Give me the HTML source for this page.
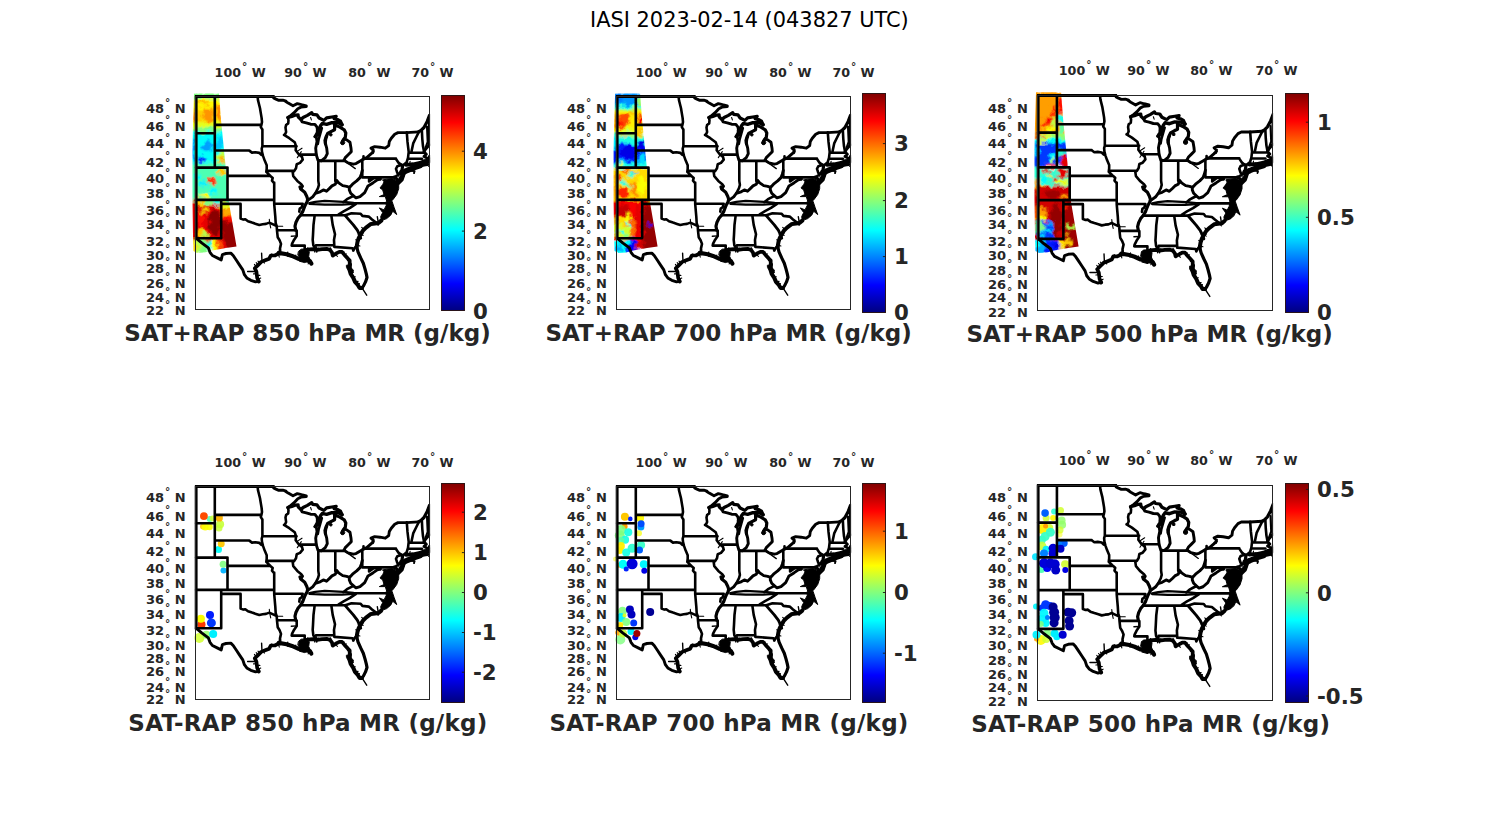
<!DOCTYPE html>
<html lang="en"><head><meta charset="utf-8"><title>IASI 2023-02-14 (043827 UTC)</title>
<style>html,body{margin:0;padding:0;background:#fff}svg{display:block}</style></head>
<body>
<svg width="1500" height="825" viewBox="0 0 1500 825">
<defs>
<linearGradient id="jet" x1="0" y1="1" x2="0" y2="0">
<stop offset="0.0000" stop-color="#000080"/>
<stop offset="0.0156" stop-color="#00008f"/>
<stop offset="0.0312" stop-color="#00009f"/>
<stop offset="0.0469" stop-color="#0000af"/>
<stop offset="0.0625" stop-color="#0000bf"/>
<stop offset="0.0781" stop-color="#0000cf"/>
<stop offset="0.0938" stop-color="#0000df"/>
<stop offset="0.1094" stop-color="#0000ef"/>
<stop offset="0.1250" stop-color="#0000ff"/>
<stop offset="0.1406" stop-color="#0010ff"/>
<stop offset="0.1562" stop-color="#0020ff"/>
<stop offset="0.1719" stop-color="#0030ff"/>
<stop offset="0.1875" stop-color="#0040ff"/>
<stop offset="0.2031" stop-color="#0050ff"/>
<stop offset="0.2188" stop-color="#0060ff"/>
<stop offset="0.2344" stop-color="#0070ff"/>
<stop offset="0.2500" stop-color="#0080ff"/>
<stop offset="0.2656" stop-color="#008fff"/>
<stop offset="0.2812" stop-color="#009fff"/>
<stop offset="0.2969" stop-color="#00afff"/>
<stop offset="0.3125" stop-color="#00bfff"/>
<stop offset="0.3281" stop-color="#00cfff"/>
<stop offset="0.3438" stop-color="#00dfff"/>
<stop offset="0.3594" stop-color="#00efff"/>
<stop offset="0.3750" stop-color="#00ffff"/>
<stop offset="0.3906" stop-color="#10ffef"/>
<stop offset="0.4062" stop-color="#20ffdf"/>
<stop offset="0.4219" stop-color="#30ffcf"/>
<stop offset="0.4375" stop-color="#40ffbf"/>
<stop offset="0.4531" stop-color="#50ffaf"/>
<stop offset="0.4688" stop-color="#60ff9f"/>
<stop offset="0.4844" stop-color="#70ff8f"/>
<stop offset="0.5000" stop-color="#80ff80"/>
<stop offset="0.5156" stop-color="#8fff70"/>
<stop offset="0.5312" stop-color="#9fff60"/>
<stop offset="0.5469" stop-color="#afff50"/>
<stop offset="0.5625" stop-color="#bfff40"/>
<stop offset="0.5781" stop-color="#cfff30"/>
<stop offset="0.5938" stop-color="#dfff20"/>
<stop offset="0.6094" stop-color="#efff10"/>
<stop offset="0.6250" stop-color="#ffff00"/>
<stop offset="0.6406" stop-color="#ffef00"/>
<stop offset="0.6562" stop-color="#ffdf00"/>
<stop offset="0.6719" stop-color="#ffcf00"/>
<stop offset="0.6875" stop-color="#ffbf00"/>
<stop offset="0.7031" stop-color="#ffaf00"/>
<stop offset="0.7188" stop-color="#ff9f00"/>
<stop offset="0.7344" stop-color="#ff8f00"/>
<stop offset="0.7500" stop-color="#ff8000"/>
<stop offset="0.7656" stop-color="#ff7000"/>
<stop offset="0.7812" stop-color="#ff6000"/>
<stop offset="0.7969" stop-color="#ff5000"/>
<stop offset="0.8125" stop-color="#ff4000"/>
<stop offset="0.8281" stop-color="#ff3000"/>
<stop offset="0.8438" stop-color="#ff2000"/>
<stop offset="0.8594" stop-color="#ff1000"/>
<stop offset="0.8750" stop-color="#ff0000"/>
<stop offset="0.8906" stop-color="#ef0000"/>
<stop offset="0.9062" stop-color="#df0000"/>
<stop offset="0.9219" stop-color="#cf0000"/>
<stop offset="0.9375" stop-color="#bf0000"/>
<stop offset="0.9531" stop-color="#af0000"/>
<stop offset="0.9688" stop-color="#9f0000"/>
<stop offset="0.9844" stop-color="#8f0000"/>
<stop offset="1.0000" stop-color="#800000"/>
</linearGradient>
<filter id="bl" x="-20%" y="-10%" width="140%" height="120%"><feGaussianBlur stdDeviation="0.9" result="b"/><feTurbulence type="fractalNoise" baseFrequency="0.16" numOctaves="2" seed="7" result="n"/><feDisplacementMap in="b" in2="n" scale="9" xChannelSelector="R" yChannelSelector="G"/></filter>
<filter id="bl2" x="-20%" y="-20%" width="140%" height="140%"><feGaussianBlur stdDeviation="0.5"/></filter>
<g id="m" fill="none" stroke="#000" stroke-linejoin="round" stroke-linecap="round">
<path stroke-width="1.1" d="M73.3 122.7 L73.7 126.7 L74.7 131.4 M80.7 129.7 L86.7 129.7 M100.7 55.1 L106 51.7 M101.3 61.1 L105.3 55.1 M114.6 21 L115.4 23.4"/>
<path stroke-width="1.3" d="M148.3 64.1 L159.3 72.1"/>
<path stroke-width="1.4" d="M95.3 139.7 L100.7 139.4 M51.6 175 L60.4 175 M65.6 156.6 L66 165 M166 191.4 L170.7 198.7 M181.3 120.1 L182.3 126.1 M218 74.4 L218.3 76.4"/>
<path stroke-width="1.7" d="M120 150.1 L120.7 155.4 M210.7 74.1 L218.7 74.7 L218 76.7"/>
<path stroke-width="2.1" d="M231 30.1 L231.7 45.4 L229.5 51.4"/>
<path stroke-width="2.2" d="M113.3 106.5 L119.3 105.4 L128.7 104.4 L147.3 105.4 L157.3 106.4 M113.3 107.3 L128.7 108.1 L146 108.1 L157.3 107.4"/>
<path stroke-width="2.6" d="M18.8 0 L18.8 71.1 M0 36.7 L18.8 36.7 M18.8 28.4 L65.3 28.4 M0 71.1 L31.5 71.1 M31.5 71.1 L31.5 103.4 M0 103.4 L78.2 103.4 M25.2 103.4 L25.2 141.7 M0 141.7 L25.2 141.7 M25.2 107.4 L44.6 107.4 L44.6 122.1 M18.8 54 L53.3 54 M31.5 79.4 L74 79.4 M66.3 49.7 L100.6 49.7 M61.6 -0.2 L62 3.8 L63 7.8 L64 11.8 L64.8 16.6 L65.6 21.4 L66 25.4 L65.4 28.4 L64.8 30.6 L66.4 33 L66.4 49.4 M66.3 50.1 L65.7 52.1 L66 55.4 L67 59.4 L68.7 64.1 L70.7 68.7 L70.7 72.1 L70.3 75.4 L72.3 77.4 L74.7 79.7 L76.7 81.4 L76 84.1 L77.7 86.1 M53.3 54.1 L56 56.1 L59.3 55.7 L63.3 56.4 L65.3 58.4 L66.1 56.7 M70.7 74.4 L98 74.1 M78.2 86.1 L78.2 107.4 L78.7 113.4 L79.3 120.1 L79.7 126.7 L80.7 129.7 L81 134.1 L81.7 140.7 L83.6 143.8 L85 147.4 L84 151.9 L84 156.9 M44.7 122.1 L47.3 123.1 L49.3 122.7 L52 124.7 L56 126.1 L60 127.4 L63.3 128.4 L66.7 127.7 L70 127.4 L73.3 126.1 L76 127.4 L78.7 128.7 L80.7 129.7 M78.3 107.3 L106.7 107.3 L105.7 110.7 L103.7 112.1 L103.3 115.1 M81 133.8 L100 133.8 M88 38.4 L93.3 41.7 L98.7 45.7 L100 49.7 L99.7 53.7 L102.7 57.7 L106 60.4 L106.7 63.1 L104 66.4 L100.7 67.7 L100 71.7 L98.3 74.4 L96.7 75.7 L97.3 79.7 L101.3 84.4 L105.3 87.7 L106.7 89.7 L105 92.7 M100.7 134.1 L100.7 139.4 L98 143.4 L96 147.4 L95.7 149.1 L108.7 149.1 L108.7 153.4 M91.9 21 L92.5 23.7 L92.2 26.9 L90.1 28.5 L89.5 31.1 L90.1 35.4 L89 38.1 L88 38.4 M118.9 40.2 L121 39.1 L123.7 34.9 L125.8 31.7 L124.2 37.5 L122.6 42.9 L121.8 47.4 M103.3 58.1 L120.3 58.1 M122.3 64.4 L122.3 84.4 L122.9 88.4 L122 91.7 L119.3 96.9 M124 64.4 L148 64.4 M139.3 64.4 L139.3 84.4 M166.3 64.4 L166.3 80.9 M167.5 62.1 L200 62.1 M167.5 59.9 L167.5 62.1 M166.3 80.9 L197 80.9 M147.3 105.7 L151 102.7 L154 101.1 L157.5 99.4 M184.3 82.7 L181.2 81.4 L177.7 81.6 L173.1 84.9 L173.1 80.9 M157.3 106.7 L192 106.7 M160 107.4 L154 111.4 L148 114.6 L142.7 117.9 M104.7 118.7 L149.3 118.7 M149.3 118.7 L155.5 116.7 L164.7 117.2 L166.4 119.4 L172.7 120.1 L176 122.9 L180 126.1 M118.7 118.7 L117.5 128.4 L117 138.4 L116.7 143.4 L117.3 148.7 L118.7 151.4 M135.3 118.7 L136.7 128.4 L139 137.7 L138 143.4 L138.3 149.4 M120 148.7 L138.3 148.7 M138.3 150.4 L156.7 151.7 L157.3 154.1 L159.3 150.7 L160.7 150.1 M200 62.4 L202.7 66.4 L205.3 68.4 L201.3 69.7 L200 72.4 L201.3 76.4 L203.3 77.9 L200 79.7 L197 80.9 M210.8 35.9 L211.5 45.4 L212.7 55.4 L212 61.4 L210.7 65.7 L206.7 68.9 M223 35.2 L220.1 41 L217.2 46.9 L215.4 55.6 M225.9 34.5 L226.3 42.5 L227 49.8 L228.1 55.6 M212.7 56.3 L228.1 56.3 M212 62.3 L226 62.3"/>
<path stroke-width="2.9" d="M77.2 -0.2 L77.6 1.4 L80 2.6 L82.8 3.8 L86.8 3.6 L90 4.6 M89 4.5 L92.2 6.6 L97 9.3 L101.3 7.1 L105.5 8.2 L110.3 9.3 L110.3 10.1 L105 10.6 L101.8 12.2 L98.1 16.2 L94.9 18.9 L91.9 21 M105 23.1 L106.1 25.3 L110.3 26.3 L114.6 27.7 L118.9 27.9 L121 30.6 L121.5 34.1 L121 36.5 L118.9 40.2 M120 38.4 L121 45.1 L119.7 51.7 L120.3 58.4 L122 63.7 M122 63.7 L125.3 64.4 L129.3 61.1 L131.3 57.1 L130.7 51.7 L129.3 46.4 L130 41.7 L130.7 40.1 M148 42.4 L150.7 43.4 L154 45.7 L155 51.7 L155.3 55.1 L152.7 57.7 L149.3 61.1 L148 63.7 M148 63.7 L152 66.4 L157.3 67.7 L160 67.1 L166 63.4 L170.7 61.1 L174.7 57.7 L177.3 55.1 M176.7 56.4 L177.3 53.7 L175 51.7 L178.7 50.1 L184 50.7 L189.3 51.7 L192.7 49.1 L193.3 45.1 L195.3 41.7 L198.7 37.7 L202 36.1 L210.7 36.1 L222.7 35.4 M112.4 103.4 L116.7 100.4 L119.3 96.9 L123.3 95.7 L127.3 93.4 L130.5 94.7 L133.5 91.9 L136 89.4 L139.3 87.7 L140.7 83.9 L142.7 86.4 L146.7 89.1 L150.7 89.9 L153.5 90.9 L156.5 87.7 L160.7 84.4 L164 81.1 L165.3 77.7 L166.3 73.9 M153.5 90.9 L153.3 93.4 L154.7 96.7 L157.5 99.4 L160 101.4 L164 100.1 L168.7 96.1 L172 89.4 L176.9 86.4 L181.3 83.4 L184.3 82.7 M149.3 119.1 L152.7 123.1 L157.3 128.4 L161.3 133.7 L163.3 137.7 L164.7 141.7 M1.2 142.6 L6 146.6 L12.4 151.4 L14 155.8 L16.4 159 L21.2 161.4 L25.2 163.4 L26.4 158.2 L30 157 L34.8 156.6 L37.2 159 L40.4 163.8 L43.6 168.6 L46.8 173.4 L48.4 178.2 L50.8 181.4 L54.8 183.8 L59.6 185.4 L62.8 184.6 M228.1 55.6 L230.3 57.8 L228.1 59.9 L231 61.6 L233.5 61.9 M233.5 48.3 L229.5 52.7 L228.1 55.6"/>
<path stroke-width="3.2" d="M0 0 L77.2 0 M0 0 L0 142 M104 90.4 L104.7 92.4 L108.7 95.7 L110.7 99.7 L111.7 102.7 L111 105.7 L109.3 108.4 L108 111.7 L106.7 115.1 L104.7 118.4 L102 121.7 L100 125.7 L99 129.7 L99.7 133.7 M91.9 21 L95.9 19.9 L99.7 18.6 L102.1 18.3 L102.3 20.5 L105 23.1 M105 23.1 L107.1 21 L111.4 18.9 L115.7 16.2 L116.7 17.8 L121 18.3 L123.1 21.5 L127.9 23.9 L130.6 21.3 L135.9 20.5 L140.2 19.9 L138.1 22.1 L142.3 23.4 L144.5 24.7 L146.1 28.2 M138.6 26.9 L138.6 33.3 L135.4 34.9 L131.7 37 L130.1 40.2 L129 43.9 L129.5 47.4 M140.2 29 L143.9 30.6 L148.2 33.3 L149.8 36.5 L149.3 40.7 L146.6 44.5 M160.7 150.1 L162 155.4 L164.7 161.4 L167.3 166.7 L169 172.4 L170.3 177.4 L171 180.9 L169.5 185.4 L167.5 189.4 L166 191.4 M205.3 68.4 L206.7 68.9 L206 73.4 L208 77.4 L206 83.4 L202.7 86.7 L201 82.4 L198 80.9 M222.5 35.4 L225 33.9 L228 31 L231.2 24.9 L233.5 18.8 M233.6 18.8 L233.6 48.4 M233.6 59.9 L233.6 65.4"/>
<path stroke-width="3.4" d="M146.1 28.2 L142.3 26.3 L135.9 26.1 L130.6 27.9 L126.3 26.9 L124.7 29.1 L123.1 32.2 L121.5 34.1"/>
<path stroke-width="3.7" d="M62.8 185 L61.2 181.4 L60.8 178.2 L60.4 175 L58.8 171.8 L62 168.6 L65.2 165.4 L69.2 163.8 L73.2 162.2 L74.8 159 L78.8 159 L82 157.4 L84.4 157 M111.3 153.1 L116.7 152.7 L120.7 153.4 L126 152.7 L131.3 152.4 L134 153.4 L136 156.1 L136.7 159.1 L140.7 156.7 L143.3 155.4 L146 155.4 L148.7 158.7 L151.3 161.4 L153.7 164.1 L153.7 168.1 M210 68.4 L217.3 67.7 L224 66.4 L228 64.7 L230.7 64.4 L233.3 64.7 M224 69.2 L228 68.3 L231.3 67.7"/>
<path stroke-width="4" d="M154 168.1 L153.5 173.4 L154.7 177.4 L157.3 181.4 L159 185.4 L162 188.7 L163.5 191.4 L166 191.4 M185.3 124.1 L182.5 126.4 L179 126.9 L175 127.4 L170 131.1 L167.3 133.7 L164.7 137.7 L162.7 141.7 L161.5 145.4 L160.7 150.1 M205.3 75.1 L206.7 79.1 L204 83.4"/>
<path stroke-width="4.2" d="M82.7 156.4 L90.7 157.7 L96 159.4 L102 162.1 L108.7 163.4 L114 164.7 L115.3 167.1"/>
<path stroke-width="5.5" d="M205.7 76.7 L210.7 74.1 L217.3 71.4 L224 69.2"/>
<path stroke-width="1.1" d="M61.9 183l2.8 -1.4 M60.9 178.8l3 0.1 M60.7 177.2l-3.2 0.2 M60.2 170.4l-1.8 -2.5 M62.1 168.5l-1.9 -2.4 M63.9 166.7l-1.9 -2 M67.8 164.3l0.5 2.3 M75.8 159l0 -1.7 M82.3 157.4l1 3.2 M84.3 156.7l0.4 -3.3 M83.3 156.5l1 -1.8 M92.4 158.3l-1 1.5 M91.2 157.9l0.6 -2.4 M99.1 160.8l0.7 -2.2 M108.6 163.4l-0.3 -3.3 M107.9 163.2l-0.6 -3.3 M114.2 165.1l-2.1 2.2 M112.9 153l-1.1 -1.7 M118.1 153l0.7 2.6 M122.7 153.1l-0.7 -1.9 M133 153l1.3 -1.9 M134.2 153.6l0.7 -1.5 M139.5 157.4l1.9 2.6 M138.7 157.9l-2 -1.4 M146.6 156.1l1.6 -0.6 M149.3 159.4l0.9 -2.1 M153.7 165.5l-2.3 -1.5 M153.5 173.5l2.1 -0.7 M154.8 177.5l2.4 -1.6 M157.3 181.4l1.8 -1.3 M158.9 185.1l3.2 -0.2 M161.1 187.7l2.3 -0.7 M180.5 126.7l1.7 2.2 M168 133l-2.3 -2.1 M165.3 136.7l1.7 0.6 M164.8 137.5l2.3 1.5 M164.7 137.7l-2.7 -0.1 M161.8 144.5l-2.1 -1.2 M161 148.5l2.9 1 M211.6 68.3l0 -2.2 M213.6 68.1l0.5 -3.3 M218.5 67.5l0.8 3.2 M220.8 67l-0.2 3.1 M230.2 64.5l-0.5 1.6 M209.6 74.6l-0.7 -2.2 M215.8 72l1.2 1.4 M214.9 72.4l1.9 1.7 M217.9 71.2l-1.5 -1.9 M217.4 71.4l0.5 1.6 M222.5 69.7l-1.3 -2.7 M231.1 67.8l1.4 2 M205.1 81.5l-2.4 -1.3"/>
<path fill="#000" stroke-width="1" d="M102.7 154.7 L105.3 152.7 L111.3 152.4 L113.3 155.4 L112.7 160.1 L114.7 164.1 L115.7 167.4 L111.3 164.7 L108.7 166.1 L103.3 164.7 L104 161.4 L102 158.7Z"/>
<path fill="#000" stroke-width="1" d="M150.7 168.7 L154 168.1 L155 171.4 L157.3 173.4 L157 176.7 L154 176.1 L152 173.4 L150.7 171.4Z"/>
<path fill="#000" stroke-width="1" d="M186.7 83.4 L190.7 82.7 L196 82.1 L199.3 83.4 L202.7 85.4 L202.7 92.1 L200.7 98.1 L197.3 102.7 L195.3 104.7 L190.7 104.7 L189.3 100.1 L183.3 100.1 L188 98.1 L186.7 93.4 L184 91.4 L186.7 88.1 L188 85.4Z"/>
<path fill="#000" stroke-width="1" d="M190.7 104.7 L196 104.7 L198 110.7 L200.7 118.1 L196.7 114.7 L194.7 118.7 L190.7 122.1 L185.3 124.1 L184.7 120.1 L186.7 116.1 L183.3 111.4 L188 113.4 L190 109.4Z"/>
<path fill="#000" stroke-width="1" d="M148.7 46.2 L148.3 47.4 L147.2 48.2 L146 48.2 L144.9 47.4 L144.5 46.2 L144.9 45 L146 44.2 L147.2 44.2 L148.3 45Z"/>
<path fill="#000" stroke-width="1" d="M136.1 38.3 L135.9 39.1 L135.2 39.5 L134.4 39.5 L133.7 39.1 L133.5 38.3 L133.7 37.5 L134.4 37.1 L135.2 37.1 L135.9 37.5Z"/>
</g>
<clipPath id="cp0"><polygon points="194,93.5 219,93.5 221,120 225,160 229,203 236.5,246.5 226,248 218,249.5 212,250.5 205,252.5 197,253 193.5,251 193,236 192.5,200 192.5,150 193,125"/></clipPath>
<clipPath id="cp1"><polygon points="615.1,93.5 640.1,93.5 642.1,120 646.1,160 650.1,203 657.6,246.5 647.1,248 639.1,249.5 633.1,250.5 626.1,252.5 618.1,253 614.6,251 614.1,236 613.6,200 613.6,150 614.1,125"/></clipPath>
<clipPath id="cp2"><polygon points="1036,92.2 1061.1,92.2 1063.1,118.9 1067.1,159.2 1071.1,202.6 1078.6,246.4 1068.1,247.9 1060.1,249.4 1054,250.4 1047,252.4 1039,253 1035.5,250.9 1035,235.8 1034.5,199.5 1034.5,149.1 1035,123.9"/></clipPath>
</defs>
<rect width="1500" height="825" fill="#fff"/>
<text x="749.4" y="26.6" font-size="20.9" text-anchor="middle" fill="#000" font-family="DejaVu Sans, Liberation Sans, sans-serif">IASI 2023-02-14 (043827 UTC)</text>
<!-- panel 1 -->
<g clip-path="url(#cp0)"><g filter="url(#bl)">
<rect x="188" y="92" width="34" height="8" fill="#80ff80"/>
<rect x="188" y="99" width="34" height="10" fill="#fffa00"/>
<rect x="188" y="108" width="36" height="15" fill="#ffd100"/>
<ellipse cx="208" cy="114" rx="6" ry="7" fill="#ff9400"/>
<ellipse cx="219.5" cy="112" rx="3" ry="9" fill="#ff8a00"/>
<ellipse cx="194" cy="118" rx="2.5" ry="5" fill="#ff8a00"/>
<ellipse cx="203" cy="103" rx="5" ry="2" fill="#ffb300"/>
<rect x="188" y="122" width="38" height="6" fill="#e5ff1a"/>
<rect x="188" y="127" width="38" height="6" fill="#80ff80"/>
<rect x="188" y="132" width="42" height="32" fill="#05fffa"/>
<ellipse cx="207" cy="147" rx="6" ry="5" fill="#009eff"/>
<ellipse cx="201" cy="160" rx="3.5" ry="3" fill="#002eff"/>
<ellipse cx="220" cy="143" rx="4" ry="6" fill="#00c7ff"/>
<ellipse cx="193" cy="150" rx="2" ry="12" fill="#0094ff"/>
<ellipse cx="221.5" cy="160" rx="5" ry="9" fill="#bdff42"/>
<ellipse cx="222" cy="161" rx="3" ry="3.5" fill="#ffb300"/>
<rect x="188" y="163" width="46" height="38" fill="#4dffb2"/>
<ellipse cx="212" cy="181" rx="3.6" ry="3" fill="#ff2e00"/>
<ellipse cx="203" cy="184" rx="5" ry="2.5" fill="#00f0ff"/>
<ellipse cx="214" cy="191" rx="4" ry="3.5" fill="#00faff"/>
<ellipse cx="205" cy="195.5" rx="5" ry="2.5" fill="#fffa00"/>
<ellipse cx="222" cy="172" rx="4" ry="3" fill="#ffc700"/>
<ellipse cx="197" cy="176" rx="3" ry="3" fill="#05fffa"/>
<rect x="188" y="200" width="34" height="42" fill="#e50000"/>
<rect x="196" y="199.5" width="9" height="5.5" fill="#ffc700"/>
<rect x="205" y="199.5" width="8" height="5.5" fill="#80ff80"/>
<rect x="213" y="199.5" width="9" height="5.5" fill="#1affe5"/>
<ellipse cx="215" cy="222" rx="6" ry="14" fill="#8a0000"/>
<ellipse cx="204" cy="209" rx="3" ry="1.2" fill="#faff05"/>
<ellipse cx="203" cy="213" rx="3" ry="1" fill="#fff000"/>
<ellipse cx="200" cy="220" rx="3" ry="6" fill="#ff0f00"/>
<ellipse cx="201" cy="233" rx="4.5" ry="5" fill="#ffc700"/>
<ellipse cx="204.5" cy="235" rx="3" ry="3" fill="#b3ff4c"/>
<rect x="221.5" y="201" width="18" height="10" fill="#e5ff1a"/>
<rect x="221.5" y="210" width="18" height="6" fill="#ff9e00"/>
<rect x="221.5" y="215.5" width="18" height="6" fill="#ff0f00"/>
<rect x="221.5" y="221" width="18" height="30" fill="#940000"/>
<rect x="188" y="240" width="12" height="15" fill="#bdff42"/>
<rect x="191" y="240" width="4.5" height="14" fill="#ffd100"/>
<rect x="200" y="240" width="8" height="13" fill="#80ff80"/>
<ellipse cx="209.5" cy="246" rx="3" ry="4.5" fill="#1affe5"/>
<rect x="212.5" y="240" width="5" height="12" fill="#fffa00"/>
<rect x="217" y="240" width="4.5" height="11" fill="#ff4c00"/>
<rect x="221" y="240" width="5" height="10" fill="#e50000"/>
</g></g>
<clipPath id="mc0"><rect x="194.5" y="95.1" width="235.6" height="215.8"/></clipPath>
<g clip-path="url(#mc0)"><use href="#m" transform="translate(196 96.5) scale(1.0 1.0)"/></g>
<rect x="195.5" y="96.5" width="234" height="213" fill="none" stroke="#262626" stroke-width="1"/>
<rect x="441.5" y="95.5" width="23" height="215" fill="url(#jet)" stroke="#200808" stroke-opacity="0.9" stroke-width="1"/>
<text x="473" y="318.5" font-size="21.3" font-weight="bold" fill="#262626" font-family="DejaVu Sans, Liberation Sans, sans-serif">0</text>
<path d="M464.5 231.1h-2.6" stroke="#1a1a1a" stroke-width="0.9"/>
<text x="473" y="238.8" font-size="21.3" font-weight="bold" fill="#262626" font-family="DejaVu Sans, Liberation Sans, sans-serif">2</text>
<path d="M464.5 151.2h-2.6" stroke="#1a1a1a" stroke-width="0.9"/>
<text x="473" y="158.9" font-size="21.3" font-weight="bold" fill="#262626" font-family="DejaVu Sans, Liberation Sans, sans-serif">4</text>
<text x="214.6" y="76.8" font-size="12.7" font-weight="bold" fill="#262626" font-family="DejaVu Sans, Liberation Sans, sans-serif">100<tspan dy="-6.8" dx="1.0" font-size="10.5">°</tspan><tspan dy="6.8" dx="-0.1"> W</tspan></text>
<text x="284.3" y="76.8" font-size="12.7" font-weight="bold" fill="#262626" font-family="DejaVu Sans, Liberation Sans, sans-serif">90<tspan dy="-6.8" dx="1.0" font-size="10.5">°</tspan><tspan dy="6.8" dx="-0.1"> W</tspan></text>
<text x="348.3" y="76.8" font-size="12.7" font-weight="bold" fill="#262626" font-family="DejaVu Sans, Liberation Sans, sans-serif">80<tspan dy="-6.8" dx="1.0" font-size="10.5">°</tspan><tspan dy="6.8" dx="-0.1"> W</tspan></text>
<text x="411.4" y="76.8" font-size="12.7" font-weight="bold" fill="#262626" font-family="DejaVu Sans, Liberation Sans, sans-serif">70<tspan dy="-6.8" dx="1.0" font-size="10.5">°</tspan><tspan dy="6.8" dx="-0.1"> W</tspan></text>
<text x="145.9" y="112.8" font-size="13" font-weight="bold" fill="#262626" font-family="DejaVu Sans, Liberation Sans, sans-serif">48<tspan dy="-7.3" dx="1.0" font-size="10.5">°</tspan><tspan dy="7.3" dx="0.1"> N</tspan></text>
<text x="145.9" y="130.7" font-size="13" font-weight="bold" fill="#262626" font-family="DejaVu Sans, Liberation Sans, sans-serif">46<tspan dy="-7.3" dx="1.0" font-size="10.5">°</tspan><tspan dy="7.3" dx="0.1"> N</tspan></text>
<text x="145.9" y="147.8" font-size="13" font-weight="bold" fill="#262626" font-family="DejaVu Sans, Liberation Sans, sans-serif">44<tspan dy="-7.3" dx="1.0" font-size="10.5">°</tspan><tspan dy="7.3" dx="0.1"> N</tspan></text>
<text x="145.9" y="166.7" font-size="13" font-weight="bold" fill="#262626" font-family="DejaVu Sans, Liberation Sans, sans-serif">42<tspan dy="-7.3" dx="1.0" font-size="10.5">°</tspan><tspan dy="7.3" dx="0.1"> N</tspan></text>
<text x="145.9" y="183.1" font-size="13" font-weight="bold" fill="#262626" font-family="DejaVu Sans, Liberation Sans, sans-serif">40<tspan dy="-7.3" dx="1.0" font-size="10.5">°</tspan><tspan dy="7.3" dx="0.1"> N</tspan></text>
<text x="145.9" y="197.9" font-size="13" font-weight="bold" fill="#262626" font-family="DejaVu Sans, Liberation Sans, sans-serif">38<tspan dy="-7.3" dx="1.0" font-size="10.5">°</tspan><tspan dy="7.3" dx="0.1"> N</tspan></text>
<text x="145.9" y="214.8" font-size="13" font-weight="bold" fill="#262626" font-family="DejaVu Sans, Liberation Sans, sans-serif">36<tspan dy="-7.3" dx="1.0" font-size="10.5">°</tspan><tspan dy="7.3" dx="0.1"> N</tspan></text>
<text x="145.9" y="228.7" font-size="13" font-weight="bold" fill="#262626" font-family="DejaVu Sans, Liberation Sans, sans-serif">34<tspan dy="-7.3" dx="1.0" font-size="10.5">°</tspan><tspan dy="7.3" dx="0.1"> N</tspan></text>
<text x="145.9" y="245.7" font-size="13" font-weight="bold" fill="#262626" font-family="DejaVu Sans, Liberation Sans, sans-serif">32<tspan dy="-7.3" dx="1.0" font-size="10.5">°</tspan><tspan dy="7.3" dx="0.1"> N</tspan></text>
<text x="145.9" y="259.6" font-size="13" font-weight="bold" fill="#262626" font-family="DejaVu Sans, Liberation Sans, sans-serif">30<tspan dy="-7.3" dx="1.0" font-size="10.5">°</tspan><tspan dy="7.3" dx="0.1"> N</tspan></text>
<text x="145.9" y="272.6" font-size="13" font-weight="bold" fill="#262626" font-family="DejaVu Sans, Liberation Sans, sans-serif">28<tspan dy="-7.3" dx="1.0" font-size="10.5">°</tspan><tspan dy="7.3" dx="0.1"> N</tspan></text>
<text x="145.9" y="287.6" font-size="13" font-weight="bold" fill="#262626" font-family="DejaVu Sans, Liberation Sans, sans-serif">26<tspan dy="-7.3" dx="1.0" font-size="10.5">°</tspan><tspan dy="7.3" dx="0.1"> N</tspan></text>
<text x="145.9" y="301.8" font-size="13" font-weight="bold" fill="#262626" font-family="DejaVu Sans, Liberation Sans, sans-serif">24<tspan dy="-7.3" dx="1.0" font-size="10.5">°</tspan><tspan dy="7.3" dx="0.1"> N</tspan></text>
<text x="145.9" y="314.8" font-size="13" font-weight="bold" fill="#262626" font-family="DejaVu Sans, Liberation Sans, sans-serif">22<tspan dy="-7.3" dx="1.0" font-size="10.5">°</tspan><tspan dy="7.3" dx="0.1"> N</tspan></text>
<text x="307.5" y="341.2" font-size="23" font-weight="bold" text-anchor="middle" fill="#262626" font-family="DejaVu Sans, Liberation Sans, sans-serif">SAT+RAP 850 hPa MR (g/kg)</text>
<!-- panel 2 -->
<g clip-path="url(#cp1)"><g filter="url(#bl)">
<rect x="609" y="92" width="36" height="15" fill="#0094ff"/>
<ellipse cx="619" cy="97" rx="4" ry="4" fill="#0075ff"/>
<ellipse cx="640" cy="103" rx="3" ry="8" fill="#94ff6b"/>
<rect x="609" y="105" width="36" height="4" fill="#1affe5"/>
<rect x="609" y="108" width="36" height="4" fill="#b3ff4c"/>
<rect x="609" y="111" width="36" height="21" fill="#fff000"/>
<ellipse cx="623" cy="121" rx="6.5" ry="7" fill="#ff4c00"/>
<ellipse cx="620" cy="124" rx="3.5" ry="4" fill="#ff0f00"/>
<ellipse cx="640" cy="120" rx="3.5" ry="5" fill="#fa0000"/>
<ellipse cx="615" cy="121" rx="2" ry="9" fill="#ff9e00"/>
<ellipse cx="632" cy="113" rx="5" ry="2.5" fill="#ffc700"/>
<ellipse cx="626" cy="130" rx="8" ry="2.5" fill="#e5ff1a"/>
<rect x="609" y="132.5" width="36" height="5" fill="#94ff6b"/>
<ellipse cx="625" cy="137" rx="4.5" ry="1.5" fill="#ffb300"/>
<ellipse cx="640.5" cy="132" rx="3.5" ry="4.5" fill="#ffc700"/>
<ellipse cx="641" cy="139" rx="3.5" ry="3" fill="#80ff80"/>
<rect x="609" y="137" width="40" height="8" fill="#1affe5"/>
<rect x="609" y="144" width="40" height="19" fill="#001aff"/>
<ellipse cx="629" cy="152" rx="9" ry="6" fill="#0000e6"/>
<ellipse cx="642" cy="146" rx="4" ry="5" fill="#0000e6"/>
<ellipse cx="615" cy="142" rx="2.5" ry="8" fill="#00f0ff"/>
<ellipse cx="623" cy="163" rx="7" ry="4" fill="#00b2ff"/>
<ellipse cx="642" cy="159" rx="4.5" ry="6" fill="#00dbff"/>
<rect x="609" y="163" width="40" height="5.5" fill="#1affe5"/>
<ellipse cx="620" cy="165" rx="3" ry="1.5" fill="#faff05"/>
<rect x="609" y="168" width="42" height="33" fill="#ffdb00"/>
<ellipse cx="627" cy="170.5" rx="5" ry="2" fill="#ff7500"/>
<ellipse cx="634" cy="173" rx="2" ry="1.2" fill="#00b2ff"/>
<ellipse cx="622.5" cy="183" rx="3.5" ry="2.5" fill="#1affe5"/>
<ellipse cx="631" cy="175.5" rx="4" ry="2" fill="#1affe5"/>
<ellipse cx="620" cy="178" rx="2" ry="3" fill="#fa0000"/>
<ellipse cx="623" cy="193" rx="6" ry="5" fill="#ff2400"/>
<ellipse cx="634" cy="190" rx="3" ry="8" fill="#ff8a00"/>
<ellipse cx="642" cy="186" rx="4" ry="10" fill="#faff05"/>
<ellipse cx="615" cy="185" rx="2" ry="14" fill="#ff9e00"/>
<ellipse cx="628" cy="186" rx="3" ry="2" fill="#4dffb2"/>
<rect x="609" y="200" width="34" height="42" fill="#fa0000"/>
<ellipse cx="623" cy="210" rx="6" ry="6" fill="#c70000"/>
<ellipse cx="622" cy="222" rx="5" ry="5" fill="#ffdb00"/>
<ellipse cx="628" cy="218" rx="3" ry="6" fill="#faff05"/>
<ellipse cx="637.5" cy="220" rx="3.5" ry="18" fill="#e50000"/>
<ellipse cx="633" cy="228" rx="2" ry="10" fill="#ff7500"/>
<rect x="617" y="226" width="13" height="13" fill="#d1ff2e"/>
<ellipse cx="620.5" cy="232" rx="2.5" ry="2.5" fill="#1affe5"/>
<ellipse cx="629" cy="225" rx="1.8" ry="3" fill="#05fffa"/>
<ellipse cx="626" cy="236" rx="4" ry="2" fill="#80ff80"/>
<ellipse cx="631" cy="238.5" rx="1.5" ry="1.5" fill="#0000e6"/>
<ellipse cx="615" cy="209" rx="2" ry="6" fill="#e50000"/>
<ellipse cx="615" cy="225" rx="2" ry="10" fill="#d1ff2e"/>
<rect x="642.5" y="201" width="18" height="50" fill="#940000"/>
<rect x="642.5" y="201" width="18" height="5" fill="#e50000"/>
<ellipse cx="650.5" cy="225" rx="2.5" ry="1.3" fill="#0000fa"/>
<rect x="609" y="240" width="17" height="15" fill="#05fffa"/>
<ellipse cx="618" cy="248" rx="4" ry="4" fill="#00b2ff"/>
<rect x="626" y="240" width="11" height="13" fill="#0000fa"/>
<ellipse cx="628" cy="243" rx="2.5" ry="2.5" fill="#05fffa"/>
<rect x="636.5" y="240" width="7" height="10" fill="#d10000"/>
</g></g>
<clipPath id="mc1"><rect x="615.5" y="95.1" width="235.6" height="215.8"/></clipPath>
<g clip-path="url(#mc1)"><use href="#m" transform="translate(617 96.5) scale(1.0 1.0)"/></g>
<rect x="616.5" y="96.5" width="234" height="213" fill="none" stroke="#262626" stroke-width="1"/>
<rect x="862.5" y="93.5" width="23" height="219" fill="url(#jet)" stroke="#200808" stroke-opacity="0.9" stroke-width="1"/>
<text x="894" y="320" font-size="21.3" font-weight="bold" fill="#262626" font-family="DejaVu Sans, Liberation Sans, sans-serif">0</text>
<path d="M885.5 256.6h-2.6" stroke="#1a1a1a" stroke-width="0.9"/>
<text x="894" y="264.4" font-size="21.3" font-weight="bold" fill="#262626" font-family="DejaVu Sans, Liberation Sans, sans-serif">1</text>
<path d="M885.5 200.6h-2.6" stroke="#1a1a1a" stroke-width="0.9"/>
<text x="894" y="208.3" font-size="21.3" font-weight="bold" fill="#262626" font-family="DejaVu Sans, Liberation Sans, sans-serif">2</text>
<path d="M885.5 143.6h-2.6" stroke="#1a1a1a" stroke-width="0.9"/>
<text x="894" y="151.3" font-size="21.3" font-weight="bold" fill="#262626" font-family="DejaVu Sans, Liberation Sans, sans-serif">3</text>
<text x="635.6" y="76.8" font-size="12.7" font-weight="bold" fill="#262626" font-family="DejaVu Sans, Liberation Sans, sans-serif">100<tspan dy="-6.8" dx="1.0" font-size="10.5">°</tspan><tspan dy="6.8" dx="-0.1"> W</tspan></text>
<text x="705.3" y="76.8" font-size="12.7" font-weight="bold" fill="#262626" font-family="DejaVu Sans, Liberation Sans, sans-serif">90<tspan dy="-6.8" dx="1.0" font-size="10.5">°</tspan><tspan dy="6.8" dx="-0.1"> W</tspan></text>
<text x="769.3" y="76.8" font-size="12.7" font-weight="bold" fill="#262626" font-family="DejaVu Sans, Liberation Sans, sans-serif">80<tspan dy="-6.8" dx="1.0" font-size="10.5">°</tspan><tspan dy="6.8" dx="-0.1"> W</tspan></text>
<text x="832.4" y="76.8" font-size="12.7" font-weight="bold" fill="#262626" font-family="DejaVu Sans, Liberation Sans, sans-serif">70<tspan dy="-6.8" dx="1.0" font-size="10.5">°</tspan><tspan dy="6.8" dx="-0.1"> W</tspan></text>
<text x="567" y="112.8" font-size="13" font-weight="bold" fill="#262626" font-family="DejaVu Sans, Liberation Sans, sans-serif">48<tspan dy="-7.3" dx="1.0" font-size="10.5">°</tspan><tspan dy="7.3" dx="0.1"> N</tspan></text>
<text x="567" y="130.7" font-size="13" font-weight="bold" fill="#262626" font-family="DejaVu Sans, Liberation Sans, sans-serif">46<tspan dy="-7.3" dx="1.0" font-size="10.5">°</tspan><tspan dy="7.3" dx="0.1"> N</tspan></text>
<text x="567" y="147.8" font-size="13" font-weight="bold" fill="#262626" font-family="DejaVu Sans, Liberation Sans, sans-serif">44<tspan dy="-7.3" dx="1.0" font-size="10.5">°</tspan><tspan dy="7.3" dx="0.1"> N</tspan></text>
<text x="567" y="166.7" font-size="13" font-weight="bold" fill="#262626" font-family="DejaVu Sans, Liberation Sans, sans-serif">42<tspan dy="-7.3" dx="1.0" font-size="10.5">°</tspan><tspan dy="7.3" dx="0.1"> N</tspan></text>
<text x="567" y="183.1" font-size="13" font-weight="bold" fill="#262626" font-family="DejaVu Sans, Liberation Sans, sans-serif">40<tspan dy="-7.3" dx="1.0" font-size="10.5">°</tspan><tspan dy="7.3" dx="0.1"> N</tspan></text>
<text x="567" y="197.9" font-size="13" font-weight="bold" fill="#262626" font-family="DejaVu Sans, Liberation Sans, sans-serif">38<tspan dy="-7.3" dx="1.0" font-size="10.5">°</tspan><tspan dy="7.3" dx="0.1"> N</tspan></text>
<text x="567" y="214.8" font-size="13" font-weight="bold" fill="#262626" font-family="DejaVu Sans, Liberation Sans, sans-serif">36<tspan dy="-7.3" dx="1.0" font-size="10.5">°</tspan><tspan dy="7.3" dx="0.1"> N</tspan></text>
<text x="567" y="228.7" font-size="13" font-weight="bold" fill="#262626" font-family="DejaVu Sans, Liberation Sans, sans-serif">34<tspan dy="-7.3" dx="1.0" font-size="10.5">°</tspan><tspan dy="7.3" dx="0.1"> N</tspan></text>
<text x="567" y="245.7" font-size="13" font-weight="bold" fill="#262626" font-family="DejaVu Sans, Liberation Sans, sans-serif">32<tspan dy="-7.3" dx="1.0" font-size="10.5">°</tspan><tspan dy="7.3" dx="0.1"> N</tspan></text>
<text x="567" y="259.6" font-size="13" font-weight="bold" fill="#262626" font-family="DejaVu Sans, Liberation Sans, sans-serif">30<tspan dy="-7.3" dx="1.0" font-size="10.5">°</tspan><tspan dy="7.3" dx="0.1"> N</tspan></text>
<text x="567" y="272.6" font-size="13" font-weight="bold" fill="#262626" font-family="DejaVu Sans, Liberation Sans, sans-serif">28<tspan dy="-7.3" dx="1.0" font-size="10.5">°</tspan><tspan dy="7.3" dx="0.1"> N</tspan></text>
<text x="567" y="287.6" font-size="13" font-weight="bold" fill="#262626" font-family="DejaVu Sans, Liberation Sans, sans-serif">26<tspan dy="-7.3" dx="1.0" font-size="10.5">°</tspan><tspan dy="7.3" dx="0.1"> N</tspan></text>
<text x="567" y="301.8" font-size="13" font-weight="bold" fill="#262626" font-family="DejaVu Sans, Liberation Sans, sans-serif">24<tspan dy="-7.3" dx="1.0" font-size="10.5">°</tspan><tspan dy="7.3" dx="0.1"> N</tspan></text>
<text x="567" y="314.8" font-size="13" font-weight="bold" fill="#262626" font-family="DejaVu Sans, Liberation Sans, sans-serif">22<tspan dy="-7.3" dx="1.0" font-size="10.5">°</tspan><tspan dy="7.3" dx="0.1"> N</tspan></text>
<text x="728.6" y="341.2" font-size="23" font-weight="bold" text-anchor="middle" fill="#262626" font-family="DejaVu Sans, Liberation Sans, sans-serif">SAT+RAP 700 hPa MR (g/kg)</text>
<!-- panel 3 -->
<g clip-path="url(#cp2)"><g filter="url(#bl)">
<rect x="1030" y="91" width="40" height="42" fill="#ff9e00"/>
<ellipse cx="1061" cy="106" rx="3.5" ry="9" fill="#ff0f00"/>
<ellipse cx="1054" cy="111" rx="2" ry="7" fill="#ff0500"/>
<ellipse cx="1048.5" cy="121" rx="4.5" ry="3.5" fill="#fa0000"/>
<ellipse cx="1044" cy="126" rx="3" ry="2.5" fill="#ff2400"/>
<ellipse cx="1054" cy="123" rx="2.5" ry="5" fill="#bdff42"/>
<ellipse cx="1061.5" cy="118" rx="3.5" ry="4" fill="#1affe5"/>
<ellipse cx="1050" cy="129.5" rx="6" ry="2.5" fill="#faff05"/>
<ellipse cx="1061.5" cy="129" rx="4" ry="4.5" fill="#61ff9e"/>
<ellipse cx="1036" cy="125" rx="2" ry="15" fill="#ff9e00"/>
<rect x="1030" y="133" width="42" height="6" fill="#94ff6b"/>
<ellipse cx="1041" cy="136" rx="3.5" ry="2.5" fill="#ff7500"/>
<ellipse cx="1048" cy="136.5" rx="4" ry="2" fill="#e5ff1a"/>
<ellipse cx="1036" cy="137" rx="2" ry="4" fill="#ff6100"/>
<rect x="1030" y="138.5" width="44" height="6" fill="#05fffa"/>
<ellipse cx="1042" cy="141" rx="5" ry="2" fill="#d1ff2e"/>
<rect x="1030" y="143" width="44" height="23" fill="#0038ff"/>
<ellipse cx="1052" cy="158" rx="3.5" ry="4.5" fill="#00f0ff"/>
<ellipse cx="1053" cy="161" rx="1.8" ry="2" fill="#d1ff2e"/>
<ellipse cx="1062" cy="152.5" rx="5" ry="2.5" fill="#2effd1"/>
<ellipse cx="1036" cy="150" rx="2" ry="8" fill="#00d1ff"/>
<ellipse cx="1064.5" cy="161" rx="4.5" ry="6.5" fill="#e50000"/>
<ellipse cx="1051" cy="165.5" rx="7" ry="1.5" fill="#ff3800"/>
<ellipse cx="1036" cy="165" rx="2.5" ry="4" fill="#004dff"/>
<rect x="1030" y="168" width="48" height="18" fill="#2effd1"/>
<ellipse cx="1046.5" cy="171" rx="4.5" ry="1.8" fill="#e50000"/>
<ellipse cx="1063" cy="173" rx="6" ry="4.5" fill="#e50000"/>
<ellipse cx="1055" cy="180" rx="3.5" ry="2.5" fill="#e50000"/>
<ellipse cx="1062" cy="182" rx="7" ry="3" fill="#e5ff1a"/>
<ellipse cx="1044" cy="180" rx="4" ry="2.5" fill="#00faff"/>
<ellipse cx="1042" cy="186" rx="4" ry="2" fill="#ffb300"/>
<ellipse cx="1050" cy="176" rx="2" ry="2" fill="#ffdb00"/>
<rect x="1030" y="186" width="48" height="58" fill="#d10000"/>
<ellipse cx="1052" cy="194" rx="8" ry="4" fill="#9e0000"/>
<ellipse cx="1064" cy="197" rx="4" ry="2" fill="#ff9e00"/>
<ellipse cx="1036" cy="185" rx="2" ry="8" fill="#ff9e00"/>
<ellipse cx="1056" cy="220" rx="6" ry="18" fill="#940000"/>
<ellipse cx="1042" cy="212" rx="4" ry="5" fill="#ff9e00"/>
<ellipse cx="1041.5" cy="218" rx="4" ry="3" fill="#faff05"/>
<ellipse cx="1036" cy="212" rx="2" ry="8" fill="#ff6100"/>
<rect x="1038" y="221" width="15" height="20" fill="#0038ff"/>
<ellipse cx="1041" cy="227" rx="2.5" ry="5" fill="#80ff80"/>
<ellipse cx="1047" cy="231" rx="5" ry="1.5" fill="#00f0ff"/>
<ellipse cx="1049" cy="224" rx="4" ry="2" fill="#009eff"/>
<ellipse cx="1043" cy="236" rx="4" ry="1.5" fill="#00f0ff"/>
<ellipse cx="1036" cy="228" rx="2" ry="7" fill="#4dffb2"/>
<rect x="1063.5" y="200" width="20" height="52" fill="#9e0000"/>
<ellipse cx="1070" cy="226.5" rx="5.5" ry="2" fill="#b3ff4c"/>
<ellipse cx="1067.5" cy="242" rx="5" ry="3" fill="#ffc700"/>
<ellipse cx="1066.5" cy="234.5" rx="2.5" ry="1.2" fill="#ffb300"/>
<ellipse cx="1066" cy="207" rx="2" ry="3" fill="#ff2400"/>
<rect x="1030" y="240" width="16" height="16" fill="#00b2ff"/>
<ellipse cx="1037" cy="243" rx="3" ry="3" fill="#05fffa"/>
<rect x="1045" y="240" width="16" height="14" fill="#001aff"/>
<ellipse cx="1055" cy="246" rx="4" ry="3" fill="#0000e6"/>
<rect x="1060" y="240" width="5" height="10" fill="#ffdb00"/>
</g></g>
<clipPath id="mc2"><rect x="1036.5" y="94.1" width="236.6" height="217.8"/></clipPath>
<g clip-path="url(#mc2)"><use href="#m" transform="translate(1038 95.5) scale(1.0065 1.0115)"/></g>
<rect x="1037.5" y="95.5" width="235" height="215" fill="none" stroke="#262626" stroke-width="1"/>
<rect x="1285.5" y="93.5" width="23" height="219" fill="url(#jet)" stroke="#200808" stroke-opacity="0.9" stroke-width="1"/>
<text x="1317" y="320" font-size="21.3" font-weight="bold" fill="#262626" font-family="DejaVu Sans, Liberation Sans, sans-serif">0</text>
<path d="M1308.5 217.3h-2.6" stroke="#1a1a1a" stroke-width="0.9"/>
<text x="1317" y="225.1" font-size="21.3" font-weight="bold" fill="#262626" font-family="DejaVu Sans, Liberation Sans, sans-serif">0.5</text>
<path d="M1308.5 122.2h-2.6" stroke="#1a1a1a" stroke-width="0.9"/>
<text x="1317" y="130" font-size="21.3" font-weight="bold" fill="#262626" font-family="DejaVu Sans, Liberation Sans, sans-serif">1</text>
<text x="1058.8" y="75.1" font-size="12.7" font-weight="bold" fill="#262626" font-family="DejaVu Sans, Liberation Sans, sans-serif">100<tspan dy="-6.8" dx="1.0" font-size="10.5">°</tspan><tspan dy="6.8" dx="-0.1"> W</tspan></text>
<text x="1127.3" y="75.1" font-size="12.7" font-weight="bold" fill="#262626" font-family="DejaVu Sans, Liberation Sans, sans-serif">90<tspan dy="-6.8" dx="1.0" font-size="10.5">°</tspan><tspan dy="6.8" dx="-0.1"> W</tspan></text>
<text x="1190.3" y="75.1" font-size="12.7" font-weight="bold" fill="#262626" font-family="DejaVu Sans, Liberation Sans, sans-serif">80<tspan dy="-6.8" dx="1.0" font-size="10.5">°</tspan><tspan dy="6.8" dx="-0.1"> W</tspan></text>
<text x="1255.4" y="75.1" font-size="12.7" font-weight="bold" fill="#262626" font-family="DejaVu Sans, Liberation Sans, sans-serif">70<tspan dy="-6.8" dx="1.0" font-size="10.5">°</tspan><tspan dy="6.8" dx="-0.1"> W</tspan></text>
<text x="988" y="112.8" font-size="13" font-weight="bold" fill="#262626" font-family="DejaVu Sans, Liberation Sans, sans-serif">48<tspan dy="-7.3" dx="1.0" font-size="10.5">°</tspan><tspan dy="7.3" dx="0.1"> N</tspan></text>
<text x="988" y="130.7" font-size="13" font-weight="bold" fill="#262626" font-family="DejaVu Sans, Liberation Sans, sans-serif">46<tspan dy="-7.3" dx="1.0" font-size="10.5">°</tspan><tspan dy="7.3" dx="0.1"> N</tspan></text>
<text x="988" y="147.8" font-size="13" font-weight="bold" fill="#262626" font-family="DejaVu Sans, Liberation Sans, sans-serif">44<tspan dy="-7.3" dx="1.0" font-size="10.5">°</tspan><tspan dy="7.3" dx="0.1"> N</tspan></text>
<text x="988" y="166.7" font-size="13" font-weight="bold" fill="#262626" font-family="DejaVu Sans, Liberation Sans, sans-serif">42<tspan dy="-7.3" dx="1.0" font-size="10.5">°</tspan><tspan dy="7.3" dx="0.1"> N</tspan></text>
<text x="988" y="183.1" font-size="13" font-weight="bold" fill="#262626" font-family="DejaVu Sans, Liberation Sans, sans-serif">40<tspan dy="-7.3" dx="1.0" font-size="10.5">°</tspan><tspan dy="7.3" dx="0.1"> N</tspan></text>
<text x="988" y="197.9" font-size="13" font-weight="bold" fill="#262626" font-family="DejaVu Sans, Liberation Sans, sans-serif">38<tspan dy="-7.3" dx="1.0" font-size="10.5">°</tspan><tspan dy="7.3" dx="0.1"> N</tspan></text>
<text x="988" y="214.8" font-size="13" font-weight="bold" fill="#262626" font-family="DejaVu Sans, Liberation Sans, sans-serif">36<tspan dy="-7.3" dx="1.0" font-size="10.5">°</tspan><tspan dy="7.3" dx="0.1"> N</tspan></text>
<text x="988" y="228.7" font-size="13" font-weight="bold" fill="#262626" font-family="DejaVu Sans, Liberation Sans, sans-serif">34<tspan dy="-7.3" dx="1.0" font-size="10.5">°</tspan><tspan dy="7.3" dx="0.1"> N</tspan></text>
<text x="988" y="245.7" font-size="13" font-weight="bold" fill="#262626" font-family="DejaVu Sans, Liberation Sans, sans-serif">32<tspan dy="-7.3" dx="1.0" font-size="10.5">°</tspan><tspan dy="7.3" dx="0.1"> N</tspan></text>
<text x="988" y="259.6" font-size="13" font-weight="bold" fill="#262626" font-family="DejaVu Sans, Liberation Sans, sans-serif">30<tspan dy="-7.3" dx="1.0" font-size="10.5">°</tspan><tspan dy="7.3" dx="0.1"> N</tspan></text>
<text x="988" y="274.5" font-size="13" font-weight="bold" fill="#262626" font-family="DejaVu Sans, Liberation Sans, sans-serif">28<tspan dy="-7.3" dx="1.0" font-size="10.5">°</tspan><tspan dy="7.3" dx="0.1"> N</tspan></text>
<text x="988" y="289.3" font-size="13" font-weight="bold" fill="#262626" font-family="DejaVu Sans, Liberation Sans, sans-serif">26<tspan dy="-7.3" dx="1.0" font-size="10.5">°</tspan><tspan dy="7.3" dx="0.1"> N</tspan></text>
<text x="988" y="301.8" font-size="13" font-weight="bold" fill="#262626" font-family="DejaVu Sans, Liberation Sans, sans-serif">24<tspan dy="-7.3" dx="1.0" font-size="10.5">°</tspan><tspan dy="7.3" dx="0.1"> N</tspan></text>
<text x="988" y="317.1" font-size="13" font-weight="bold" fill="#262626" font-family="DejaVu Sans, Liberation Sans, sans-serif">22<tspan dy="-7.3" dx="1.0" font-size="10.5">°</tspan><tspan dy="7.3" dx="0.1"> N</tspan></text>
<text x="1149.6" y="342" font-size="23" font-weight="bold" text-anchor="middle" fill="#262626" font-family="DejaVu Sans, Liberation Sans, sans-serif">SAT+RAP 500 hPa MR (g/kg)</text>
<!-- panel 4 -->
<g filter="url(#bl2)">
<circle cx="209.7" cy="518.9" r="3" fill="#4dffb2" fill-opacity="0.85"/>
<circle cx="212.7" cy="518.4" r="3" fill="#d1ff2e" fill-opacity="0.8"/>
<circle cx="203.9" cy="516.1" r="3.9" fill="#ff4c00" fill-opacity="1"/>
<circle cx="203" cy="526.4" r="3" fill="#ffc700" fill-opacity="0.85"/>
<circle cx="205.2" cy="526.9" r="3.5" fill="#faff05" fill-opacity="0.9"/>
<circle cx="209.5" cy="527" r="3.3" fill="#faff05" fill-opacity="0.9"/>
<circle cx="219" cy="528" r="3.5" fill="#c7ff38" fill-opacity="0.85"/>
<circle cx="220.1" cy="524.3" r="4" fill="#c7ff38" fill-opacity="0.9"/>
<circle cx="219.3" cy="517.9" r="3.6" fill="#ffb300" fill-opacity="0.95"/>
<circle cx="218.5" cy="549.5" r="3.5" fill="#05fffa" fill-opacity="0.95"/>
<circle cx="221.2" cy="543.7" r="3.5" fill="#ffc700" fill-opacity="0.95"/>
<circle cx="223.5" cy="570.5" r="3" fill="#00b2ff" fill-opacity="0.95"/>
<circle cx="223.1" cy="564.3" r="3.5" fill="#80ff80" fill-opacity="0.9"/>
<circle cx="199.3" cy="637.9" r="5" fill="#d1ff2e" fill-opacity="0.85"/>
<circle cx="206.3" cy="634.7" r="4" fill="#94ff6b" fill-opacity="0.85"/>
<circle cx="213.2" cy="634.1" r="4" fill="#00f0ff" fill-opacity="1"/>
<circle cx="201.5" cy="624.5" r="4" fill="#ff3800" fill-opacity="1"/>
<circle cx="200.9" cy="618.7" r="4" fill="#faff05" fill-opacity="1"/>
<circle cx="211.4" cy="622.9" r="4.5" fill="#0038ff" fill-opacity="1"/>
<circle cx="210" cy="614.9" r="4" fill="#001aff" fill-opacity="1"/>
</g>
<clipPath id="mc3"><rect x="194.5" y="485.1" width="235.6" height="215.8"/></clipPath>
<g clip-path="url(#mc3)"><use href="#m" transform="translate(196 486.5) scale(1.0 1.0)"/></g>
<rect x="195.5" y="486.5" width="234" height="213" fill="none" stroke="#262626" stroke-width="1"/>
<rect x="441.5" y="483.5" width="23" height="219" fill="url(#jet)" stroke="#200808" stroke-opacity="0.9" stroke-width="1"/>
<path d="M464.5 672.2h-2.6" stroke="#1a1a1a" stroke-width="0.9"/>
<text x="473" y="680" font-size="21.3" font-weight="bold" fill="#262626" font-family="DejaVu Sans, Liberation Sans, sans-serif">-2</text>
<path d="M464.5 632.5h-2.6" stroke="#1a1a1a" stroke-width="0.9"/>
<text x="473" y="640.2" font-size="21.3" font-weight="bold" fill="#262626" font-family="DejaVu Sans, Liberation Sans, sans-serif">-1</text>
<path d="M464.5 592.5h-2.6" stroke="#1a1a1a" stroke-width="0.9"/>
<text x="473" y="600.3" font-size="21.3" font-weight="bold" fill="#262626" font-family="DejaVu Sans, Liberation Sans, sans-serif">0</text>
<path d="M464.5 552.6h-2.6" stroke="#1a1a1a" stroke-width="0.9"/>
<text x="473" y="560.4" font-size="21.3" font-weight="bold" fill="#262626" font-family="DejaVu Sans, Liberation Sans, sans-serif">1</text>
<path d="M464.5 512.2h-2.6" stroke="#1a1a1a" stroke-width="0.9"/>
<text x="473" y="520" font-size="21.3" font-weight="bold" fill="#262626" font-family="DejaVu Sans, Liberation Sans, sans-serif">2</text>
<text x="214.6" y="466.8" font-size="12.7" font-weight="bold" fill="#262626" font-family="DejaVu Sans, Liberation Sans, sans-serif">100<tspan dy="-6.8" dx="1.0" font-size="10.5">°</tspan><tspan dy="6.8" dx="-0.1"> W</tspan></text>
<text x="284.3" y="466.8" font-size="12.7" font-weight="bold" fill="#262626" font-family="DejaVu Sans, Liberation Sans, sans-serif">90<tspan dy="-6.8" dx="1.0" font-size="10.5">°</tspan><tspan dy="6.8" dx="-0.1"> W</tspan></text>
<text x="348.3" y="466.8" font-size="12.7" font-weight="bold" fill="#262626" font-family="DejaVu Sans, Liberation Sans, sans-serif">80<tspan dy="-6.8" dx="1.0" font-size="10.5">°</tspan><tspan dy="6.8" dx="-0.1"> W</tspan></text>
<text x="411.4" y="466.8" font-size="12.7" font-weight="bold" fill="#262626" font-family="DejaVu Sans, Liberation Sans, sans-serif">70<tspan dy="-6.8" dx="1.0" font-size="10.5">°</tspan><tspan dy="6.8" dx="-0.1"> W</tspan></text>
<text x="145.9" y="502.1" font-size="13" font-weight="bold" fill="#262626" font-family="DejaVu Sans, Liberation Sans, sans-serif">48<tspan dy="-7.3" dx="1.0" font-size="10.5">°</tspan><tspan dy="7.3" dx="0.1"> N</tspan></text>
<text x="145.9" y="520.7" font-size="13" font-weight="bold" fill="#262626" font-family="DejaVu Sans, Liberation Sans, sans-serif">46<tspan dy="-7.3" dx="1.0" font-size="10.5">°</tspan><tspan dy="7.3" dx="0.1"> N</tspan></text>
<text x="145.9" y="537.5" font-size="13" font-weight="bold" fill="#262626" font-family="DejaVu Sans, Liberation Sans, sans-serif">44<tspan dy="-7.3" dx="1.0" font-size="10.5">°</tspan><tspan dy="7.3" dx="0.1"> N</tspan></text>
<text x="145.9" y="555.9" font-size="13" font-weight="bold" fill="#262626" font-family="DejaVu Sans, Liberation Sans, sans-serif">42<tspan dy="-7.3" dx="1.0" font-size="10.5">°</tspan><tspan dy="7.3" dx="0.1"> N</tspan></text>
<text x="145.9" y="573.1" font-size="13" font-weight="bold" fill="#262626" font-family="DejaVu Sans, Liberation Sans, sans-serif">40<tspan dy="-7.3" dx="1.0" font-size="10.5">°</tspan><tspan dy="7.3" dx="0.1"> N</tspan></text>
<text x="145.9" y="587.6" font-size="13" font-weight="bold" fill="#262626" font-family="DejaVu Sans, Liberation Sans, sans-serif">38<tspan dy="-7.3" dx="1.0" font-size="10.5">°</tspan><tspan dy="7.3" dx="0.1"> N</tspan></text>
<text x="145.9" y="604.1" font-size="13" font-weight="bold" fill="#262626" font-family="DejaVu Sans, Liberation Sans, sans-serif">36<tspan dy="-7.3" dx="1.0" font-size="10.5">°</tspan><tspan dy="7.3" dx="0.1"> N</tspan></text>
<text x="145.9" y="618.7" font-size="13" font-weight="bold" fill="#262626" font-family="DejaVu Sans, Liberation Sans, sans-serif">34<tspan dy="-7.3" dx="1.0" font-size="10.5">°</tspan><tspan dy="7.3" dx="0.1"> N</tspan></text>
<text x="145.9" y="634.7" font-size="13" font-weight="bold" fill="#262626" font-family="DejaVu Sans, Liberation Sans, sans-serif">32<tspan dy="-7.3" dx="1.0" font-size="10.5">°</tspan><tspan dy="7.3" dx="0.1"> N</tspan></text>
<text x="145.9" y="649.6" font-size="13" font-weight="bold" fill="#262626" font-family="DejaVu Sans, Liberation Sans, sans-serif">30<tspan dy="-7.3" dx="1.0" font-size="10.5">°</tspan><tspan dy="7.3" dx="0.1"> N</tspan></text>
<text x="145.9" y="662.6" font-size="13" font-weight="bold" fill="#262626" font-family="DejaVu Sans, Liberation Sans, sans-serif">28<tspan dy="-7.3" dx="1.0" font-size="10.5">°</tspan><tspan dy="7.3" dx="0.1"> N</tspan></text>
<text x="145.9" y="676.4" font-size="13" font-weight="bold" fill="#262626" font-family="DejaVu Sans, Liberation Sans, sans-serif">26<tspan dy="-7.3" dx="1.0" font-size="10.5">°</tspan><tspan dy="7.3" dx="0.1"> N</tspan></text>
<text x="145.9" y="691.8" font-size="13" font-weight="bold" fill="#262626" font-family="DejaVu Sans, Liberation Sans, sans-serif">24<tspan dy="-7.3" dx="1.0" font-size="10.5">°</tspan><tspan dy="7.3" dx="0.1"> N</tspan></text>
<text x="145.9" y="703.8" font-size="13" font-weight="bold" fill="#262626" font-family="DejaVu Sans, Liberation Sans, sans-serif">22<tspan dy="-7.3" dx="1.0" font-size="10.5">°</tspan><tspan dy="7.3" dx="0.1"> N</tspan></text>
<text x="307.8" y="730.7" font-size="23" font-weight="bold" text-anchor="middle" fill="#262626" textLength="358.9" lengthAdjust="spacing" font-family="DejaVu Sans, Liberation Sans, sans-serif">SAT-RAP 850 hPa MR (g/kg)</text>
<!-- panel 5 -->
<g filter="url(#bl2)">
<circle cx="618.7" cy="565.3" r="2.5" fill="#ff9e00" fill-opacity="0.9"/>
<circle cx="615.5" cy="559" r="2.5" fill="#faff05" fill-opacity="0.5"/>
<circle cx="624.9" cy="516.8" r="4" fill="#ffc700" fill-opacity="1"/>
<circle cx="630.3" cy="518.9" r="2.3" fill="#001aff" fill-opacity="1"/>
<circle cx="640.1" cy="517.9" r="4" fill="#fffa00" fill-opacity="0.95"/>
<circle cx="640.9" cy="526.9" r="3.5" fill="#009eff" fill-opacity="1"/>
<circle cx="641.1" cy="523.7" r="3.5" fill="#004dff" fill-opacity="1"/>
<circle cx="624.6" cy="526.4" r="3" fill="#ff9e00" fill-opacity="1"/>
<circle cx="639" cy="533.3" r="3" fill="#faff05" fill-opacity="0.7"/>
<circle cx="620.9" cy="530.1" r="5" fill="#80ff80" fill-opacity="0.9"/>
<circle cx="619.8" cy="535.5" r="5" fill="#80ff80" fill-opacity="0.9"/>
<circle cx="628.3" cy="532.3" r="4" fill="#1affe5" fill-opacity="0.95"/>
<circle cx="625.1" cy="539.7" r="4" fill="#1affe5" fill-opacity="0.95"/>
<circle cx="620.5" cy="541" r="4" fill="#61ff9e" fill-opacity="0.9"/>
<circle cx="620.9" cy="546.1" r="4" fill="#fff000" fill-opacity="0.95"/>
<circle cx="619.8" cy="550.4" r="3.5" fill="#fff000" fill-opacity="0.95"/>
<circle cx="632.1" cy="548.3" r="4.5" fill="#2effd1" fill-opacity="0.95"/>
<circle cx="626.2" cy="552.5" r="4" fill="#1affe5" fill-opacity="0.95"/>
<circle cx="641.1" cy="545.1" r="4" fill="#38ffc7" fill-opacity="0.95"/>
<circle cx="639.5" cy="549.9" r="3.5" fill="#0061ff" fill-opacity="1"/>
<circle cx="623" cy="564.3" r="4.5" fill="#05fffa" fill-opacity="1"/>
<circle cx="643.8" cy="564.3" r="4" fill="#00faff" fill-opacity="1"/>
<circle cx="644.3" cy="570.7" r="3" fill="#0000e6" fill-opacity="1"/>
<circle cx="626.2" cy="569" r="2.5" fill="#0024ff" fill-opacity="1"/>
<circle cx="632.1" cy="563.8" r="5.5" fill="#0000db" fill-opacity="1"/>
<circle cx="622.5" cy="611.2" r="4.5" fill="#80ff80" fill-opacity="0.9"/>
<circle cx="620.9" cy="617.6" r="4.5" fill="#00f0ff" fill-opacity="0.95"/>
<circle cx="624.5" cy="615.5" r="2" fill="#e5ff1a" fill-opacity="0.9"/>
<circle cx="626.2" cy="621.9" r="4" fill="#80ff80" fill-opacity="0.9"/>
<circle cx="620.3" cy="625.1" r="3" fill="#ffe500" fill-opacity="0.95"/>
<circle cx="633.7" cy="622.9" r="3.5" fill="#0038ff" fill-opacity="1"/>
<circle cx="629.9" cy="609.6" r="4" fill="#0000bd" fill-opacity="1"/>
<circle cx="631.5" cy="614.4" r="4" fill="#0000bd" fill-opacity="1"/>
<circle cx="650.2" cy="611.9" r="4" fill="#000094" fill-opacity="1"/>
<circle cx="620.3" cy="639.5" r="5" fill="#80ff80" fill-opacity="0.8"/>
<circle cx="618.2" cy="632.5" r="3" fill="#ff9e00" fill-opacity="0.9"/>
<circle cx="623" cy="633.6" r="4" fill="#c7ff38" fill-opacity="0.9"/>
<circle cx="631" cy="631.5" r="3.5" fill="#00f0ff" fill-opacity="1"/>
<circle cx="635.3" cy="637.3" r="3" fill="#0000e6" fill-opacity="1"/>
<circle cx="636.9" cy="633.6" r="3.5" fill="#9e0000" fill-opacity="1"/>
</g>
<clipPath id="mc4"><rect x="615.5" y="485.1" width="235.6" height="215.8"/></clipPath>
<g clip-path="url(#mc4)"><use href="#m" transform="translate(617 486.5) scale(1.0 1.0)"/></g>
<rect x="616.5" y="486.5" width="234" height="213" fill="none" stroke="#262626" stroke-width="1"/>
<rect x="862.5" y="483.5" width="23" height="219" fill="url(#jet)" stroke="#200808" stroke-opacity="0.9" stroke-width="1"/>
<path d="M885.5 653.2h-2.6" stroke="#1a1a1a" stroke-width="0.9"/>
<text x="894" y="661" font-size="21.3" font-weight="bold" fill="#262626" font-family="DejaVu Sans, Liberation Sans, sans-serif">-1</text>
<path d="M885.5 592.5h-2.6" stroke="#1a1a1a" stroke-width="0.9"/>
<text x="894" y="600.3" font-size="21.3" font-weight="bold" fill="#262626" font-family="DejaVu Sans, Liberation Sans, sans-serif">0</text>
<path d="M885.5 531.2h-2.6" stroke="#1a1a1a" stroke-width="0.9"/>
<text x="894" y="539" font-size="21.3" font-weight="bold" fill="#262626" font-family="DejaVu Sans, Liberation Sans, sans-serif">1</text>
<text x="635.6" y="466.8" font-size="12.7" font-weight="bold" fill="#262626" font-family="DejaVu Sans, Liberation Sans, sans-serif">100<tspan dy="-6.8" dx="1.0" font-size="10.5">°</tspan><tspan dy="6.8" dx="-0.1"> W</tspan></text>
<text x="705.3" y="466.8" font-size="12.7" font-weight="bold" fill="#262626" font-family="DejaVu Sans, Liberation Sans, sans-serif">90<tspan dy="-6.8" dx="1.0" font-size="10.5">°</tspan><tspan dy="6.8" dx="-0.1"> W</tspan></text>
<text x="769.3" y="466.8" font-size="12.7" font-weight="bold" fill="#262626" font-family="DejaVu Sans, Liberation Sans, sans-serif">80<tspan dy="-6.8" dx="1.0" font-size="10.5">°</tspan><tspan dy="6.8" dx="-0.1"> W</tspan></text>
<text x="832.4" y="466.8" font-size="12.7" font-weight="bold" fill="#262626" font-family="DejaVu Sans, Liberation Sans, sans-serif">70<tspan dy="-6.8" dx="1.0" font-size="10.5">°</tspan><tspan dy="6.8" dx="-0.1"> W</tspan></text>
<text x="567" y="502.1" font-size="13" font-weight="bold" fill="#262626" font-family="DejaVu Sans, Liberation Sans, sans-serif">48<tspan dy="-7.3" dx="1.0" font-size="10.5">°</tspan><tspan dy="7.3" dx="0.1"> N</tspan></text>
<text x="567" y="520.7" font-size="13" font-weight="bold" fill="#262626" font-family="DejaVu Sans, Liberation Sans, sans-serif">46<tspan dy="-7.3" dx="1.0" font-size="10.5">°</tspan><tspan dy="7.3" dx="0.1"> N</tspan></text>
<text x="567" y="537.5" font-size="13" font-weight="bold" fill="#262626" font-family="DejaVu Sans, Liberation Sans, sans-serif">44<tspan dy="-7.3" dx="1.0" font-size="10.5">°</tspan><tspan dy="7.3" dx="0.1"> N</tspan></text>
<text x="567" y="555.9" font-size="13" font-weight="bold" fill="#262626" font-family="DejaVu Sans, Liberation Sans, sans-serif">42<tspan dy="-7.3" dx="1.0" font-size="10.5">°</tspan><tspan dy="7.3" dx="0.1"> N</tspan></text>
<text x="567" y="573.1" font-size="13" font-weight="bold" fill="#262626" font-family="DejaVu Sans, Liberation Sans, sans-serif">40<tspan dy="-7.3" dx="1.0" font-size="10.5">°</tspan><tspan dy="7.3" dx="0.1"> N</tspan></text>
<text x="567" y="587.6" font-size="13" font-weight="bold" fill="#262626" font-family="DejaVu Sans, Liberation Sans, sans-serif">38<tspan dy="-7.3" dx="1.0" font-size="10.5">°</tspan><tspan dy="7.3" dx="0.1"> N</tspan></text>
<text x="567" y="604.1" font-size="13" font-weight="bold" fill="#262626" font-family="DejaVu Sans, Liberation Sans, sans-serif">36<tspan dy="-7.3" dx="1.0" font-size="10.5">°</tspan><tspan dy="7.3" dx="0.1"> N</tspan></text>
<text x="567" y="618.7" font-size="13" font-weight="bold" fill="#262626" font-family="DejaVu Sans, Liberation Sans, sans-serif">34<tspan dy="-7.3" dx="1.0" font-size="10.5">°</tspan><tspan dy="7.3" dx="0.1"> N</tspan></text>
<text x="567" y="634.7" font-size="13" font-weight="bold" fill="#262626" font-family="DejaVu Sans, Liberation Sans, sans-serif">32<tspan dy="-7.3" dx="1.0" font-size="10.5">°</tspan><tspan dy="7.3" dx="0.1"> N</tspan></text>
<text x="567" y="649.6" font-size="13" font-weight="bold" fill="#262626" font-family="DejaVu Sans, Liberation Sans, sans-serif">30<tspan dy="-7.3" dx="1.0" font-size="10.5">°</tspan><tspan dy="7.3" dx="0.1"> N</tspan></text>
<text x="567" y="662.6" font-size="13" font-weight="bold" fill="#262626" font-family="DejaVu Sans, Liberation Sans, sans-serif">28<tspan dy="-7.3" dx="1.0" font-size="10.5">°</tspan><tspan dy="7.3" dx="0.1"> N</tspan></text>
<text x="567" y="676.4" font-size="13" font-weight="bold" fill="#262626" font-family="DejaVu Sans, Liberation Sans, sans-serif">26<tspan dy="-7.3" dx="1.0" font-size="10.5">°</tspan><tspan dy="7.3" dx="0.1"> N</tspan></text>
<text x="567" y="691.8" font-size="13" font-weight="bold" fill="#262626" font-family="DejaVu Sans, Liberation Sans, sans-serif">24<tspan dy="-7.3" dx="1.0" font-size="10.5">°</tspan><tspan dy="7.3" dx="0.1"> N</tspan></text>
<text x="567" y="703.8" font-size="13" font-weight="bold" fill="#262626" font-family="DejaVu Sans, Liberation Sans, sans-serif">22<tspan dy="-7.3" dx="1.0" font-size="10.5">°</tspan><tspan dy="7.3" dx="0.1"> N</tspan></text>
<text x="728.9" y="730.7" font-size="23" font-weight="bold" text-anchor="middle" fill="#262626" textLength="358.9" lengthAdjust="spacing" font-family="DejaVu Sans, Liberation Sans, sans-serif">SAT-RAP 700 hPa MR (g/kg)</text>
<!-- panel 6 -->
<g filter="url(#bl2)">
<circle cx="1054.1" cy="511.5" r="3" fill="#2effd1" fill-opacity="0.9"/>
<circle cx="1060.5" cy="510.4" r="3.5" fill="#d1ff2e" fill-opacity="0.85"/>
<circle cx="1046.1" cy="517.9" r="3.5" fill="#d1ff2e" fill-opacity="0.85"/>
<circle cx="1053.1" cy="517.9" r="3" fill="#fffa00" fill-opacity="0.9"/>
<circle cx="1045.1" cy="513.1" r="3.8" fill="#0061ff" fill-opacity="1"/>
<circle cx="1061.6" cy="520.5" r="4" fill="#94ff6b" fill-opacity="0.85"/>
<circle cx="1062.1" cy="524.8" r="4" fill="#94ff6b" fill-opacity="0.85"/>
<circle cx="1060" cy="530.1" r="3.5" fill="#d1ff2e" fill-opacity="0.8"/>
<circle cx="1059.5" cy="534.5" r="3" fill="#faff05" fill-opacity="0.5"/>
<circle cx="1042.4" cy="529.1" r="5" fill="#fff000" fill-opacity="0.95"/>
<circle cx="1049.3" cy="528" r="4" fill="#d1ff2e" fill-opacity="0.9"/>
<circle cx="1045.6" cy="525.9" r="2.5" fill="#ff9e00" fill-opacity="1"/>
<circle cx="1050.4" cy="532.3" r="4.5" fill="#38ffc7" fill-opacity="0.95"/>
<circle cx="1045.1" cy="536.5" r="4.5" fill="#38ffc7" fill-opacity="0.95"/>
<circle cx="1041.9" cy="539.7" r="4" fill="#38ffc7" fill-opacity="0.95"/>
<circle cx="1041.9" cy="546.1" r="4.5" fill="#c7ff38" fill-opacity="0.9"/>
<circle cx="1046.1" cy="549.3" r="3.5" fill="#00f0ff" fill-opacity="0.95"/>
<circle cx="1044" cy="553.6" r="4" fill="#0080ff" fill-opacity="1"/>
<circle cx="1035.5" cy="556.8" r="3.5" fill="#00e5ff" fill-opacity="0.9"/>
<circle cx="1063.7" cy="542.9" r="4" fill="#0061ff" fill-opacity="1"/>
<circle cx="1059" cy="544" r="3" fill="#0080ff" fill-opacity="1"/>
<circle cx="1060.5" cy="548.8" r="4" fill="#0000c7" fill-opacity="1"/>
<circle cx="1053.1" cy="548.3" r="4.5" fill="#0000d1" fill-opacity="1"/>
<circle cx="1052.5" cy="553.6" r="4" fill="#0000d1" fill-opacity="1"/>
<circle cx="1041.3" cy="569.6" r="3.5" fill="#4dffb2" fill-opacity="0.95"/>
<circle cx="1065.1" cy="564.3" r="4" fill="#d1ff2e" fill-opacity="0.9"/>
<circle cx="1065.3" cy="570.1" r="3" fill="#0000e6" fill-opacity="1"/>
<circle cx="1047.2" cy="568" r="4" fill="#0000fa" fill-opacity="1"/>
<circle cx="1044" cy="563.2" r="5" fill="#0000db" fill-opacity="1"/>
<circle cx="1050.4" cy="563.5" r="5" fill="#0000d1" fill-opacity="1"/>
<circle cx="1054.7" cy="564.3" r="5" fill="#0000d1" fill-opacity="1"/>
<circle cx="1055.7" cy="570.1" r="4.5" fill="#0000c7" fill-opacity="1"/>
<circle cx="1036" cy="606.4" r="3" fill="#00faff" fill-opacity="0.9"/>
<circle cx="1041.9" cy="608" r="3.5" fill="#0038ff" fill-opacity="1"/>
<circle cx="1045.6" cy="604.8" r="4.5" fill="#0038ff" fill-opacity="1"/>
<circle cx="1049.9" cy="605.9" r="4" fill="#0038ff" fill-opacity="1"/>
<circle cx="1044" cy="613.3" r="4.5" fill="#00faff" fill-opacity="0.95"/>
<circle cx="1041.9" cy="619.7" r="5" fill="#00faff" fill-opacity="0.95"/>
<circle cx="1045.6" cy="622.9" r="4" fill="#00faff" fill-opacity="0.95"/>
<circle cx="1040.8" cy="624" r="3" fill="#80ff80" fill-opacity="0.9"/>
<circle cx="1047.5" cy="617.5" r="2.5" fill="#0080ff" fill-opacity="1"/>
<circle cx="1053.1" cy="606.9" r="4.5" fill="#000094" fill-opacity="1"/>
<circle cx="1054.1" cy="612.3" r="5" fill="#000094" fill-opacity="1"/>
<circle cx="1054.7" cy="617.6" r="5" fill="#000094" fill-opacity="1"/>
<circle cx="1054.1" cy="622.9" r="4.5" fill="#000094" fill-opacity="1"/>
<circle cx="1068" cy="612.3" r="4.5" fill="#000094" fill-opacity="1"/>
<circle cx="1071.7" cy="612.8" r="4.5" fill="#000094" fill-opacity="1"/>
<circle cx="1069.1" cy="620.8" r="4.5" fill="#000094" fill-opacity="1"/>
<circle cx="1069.6" cy="626.1" r="4.5" fill="#000094" fill-opacity="1"/>
<circle cx="1040.8" cy="640" r="5" fill="#fffa00" fill-opacity="0.9"/>
<circle cx="1036.5" cy="638.9" r="2.5" fill="#ff9e00" fill-opacity="0.9"/>
<circle cx="1046.1" cy="638.9" r="4" fill="#d1ff2e" fill-opacity="0.85"/>
<circle cx="1036.5" cy="634.7" r="4" fill="#00f0ff" fill-opacity="0.95"/>
<circle cx="1047.2" cy="633.6" r="4" fill="#80ff80" fill-opacity="0.9"/>
<circle cx="1054.7" cy="633.6" r="4" fill="#00f0ff" fill-opacity="1"/>
<circle cx="1056.8" cy="636.8" r="3.5" fill="#00f0ff" fill-opacity="1"/>
<circle cx="1062.7" cy="634.7" r="4" fill="#0000d1" fill-opacity="1"/>
</g>
<clipPath id="mc5"><rect x="1036.5" y="484.1" width="236.6" height="217.8"/></clipPath>
<g clip-path="url(#mc5)"><use href="#m" transform="translate(1038 485.5) scale(1.0065 1.0115)"/></g>
<rect x="1037.5" y="485.5" width="235" height="215" fill="none" stroke="#262626" stroke-width="1"/>
<rect x="1285.5" y="483.5" width="23" height="219" fill="url(#jet)" stroke="#200808" stroke-opacity="0.9" stroke-width="1"/>
<path d="M1308.5 696h-2.6" stroke="#1a1a1a" stroke-width="0.9"/>
<text x="1317" y="703.8" font-size="21.3" font-weight="bold" fill="#262626" font-family="DejaVu Sans, Liberation Sans, sans-serif">-0.5</text>
<path d="M1308.5 592.8h-2.6" stroke="#1a1a1a" stroke-width="0.9"/>
<text x="1317" y="600.5" font-size="21.3" font-weight="bold" fill="#262626" font-family="DejaVu Sans, Liberation Sans, sans-serif">0</text>
<path d="M1308.5 489.4h-2.6" stroke="#1a1a1a" stroke-width="0.9"/>
<text x="1317" y="497.2" font-size="21.3" font-weight="bold" fill="#262626" font-family="DejaVu Sans, Liberation Sans, sans-serif">0.5</text>
<text x="1058.8" y="465.1" font-size="12.7" font-weight="bold" fill="#262626" font-family="DejaVu Sans, Liberation Sans, sans-serif">100<tspan dy="-6.8" dx="1.0" font-size="10.5">°</tspan><tspan dy="6.8" dx="-0.1"> W</tspan></text>
<text x="1127.3" y="465.1" font-size="12.7" font-weight="bold" fill="#262626" font-family="DejaVu Sans, Liberation Sans, sans-serif">90<tspan dy="-6.8" dx="1.0" font-size="10.5">°</tspan><tspan dy="6.8" dx="-0.1"> W</tspan></text>
<text x="1190.3" y="465.1" font-size="12.7" font-weight="bold" fill="#262626" font-family="DejaVu Sans, Liberation Sans, sans-serif">80<tspan dy="-6.8" dx="1.0" font-size="10.5">°</tspan><tspan dy="6.8" dx="-0.1"> W</tspan></text>
<text x="1255.4" y="465.1" font-size="12.7" font-weight="bold" fill="#262626" font-family="DejaVu Sans, Liberation Sans, sans-serif">70<tspan dy="-6.8" dx="1.0" font-size="10.5">°</tspan><tspan dy="6.8" dx="-0.1"> W</tspan></text>
<text x="988" y="502.1" font-size="13" font-weight="bold" fill="#262626" font-family="DejaVu Sans, Liberation Sans, sans-serif">48<tspan dy="-7.3" dx="1.0" font-size="10.5">°</tspan><tspan dy="7.3" dx="0.1"> N</tspan></text>
<text x="988" y="520.7" font-size="13" font-weight="bold" fill="#262626" font-family="DejaVu Sans, Liberation Sans, sans-serif">46<tspan dy="-7.3" dx="1.0" font-size="10.5">°</tspan><tspan dy="7.3" dx="0.1"> N</tspan></text>
<text x="988" y="537.5" font-size="13" font-weight="bold" fill="#262626" font-family="DejaVu Sans, Liberation Sans, sans-serif">44<tspan dy="-7.3" dx="1.0" font-size="10.5">°</tspan><tspan dy="7.3" dx="0.1"> N</tspan></text>
<text x="988" y="555.9" font-size="13" font-weight="bold" fill="#262626" font-family="DejaVu Sans, Liberation Sans, sans-serif">42<tspan dy="-7.3" dx="1.0" font-size="10.5">°</tspan><tspan dy="7.3" dx="0.1"> N</tspan></text>
<text x="988" y="573.1" font-size="13" font-weight="bold" fill="#262626" font-family="DejaVu Sans, Liberation Sans, sans-serif">40<tspan dy="-7.3" dx="1.0" font-size="10.5">°</tspan><tspan dy="7.3" dx="0.1"> N</tspan></text>
<text x="988" y="587.6" font-size="13" font-weight="bold" fill="#262626" font-family="DejaVu Sans, Liberation Sans, sans-serif">38<tspan dy="-7.3" dx="1.0" font-size="10.5">°</tspan><tspan dy="7.3" dx="0.1"> N</tspan></text>
<text x="988" y="604.1" font-size="13" font-weight="bold" fill="#262626" font-family="DejaVu Sans, Liberation Sans, sans-serif">36<tspan dy="-7.3" dx="1.0" font-size="10.5">°</tspan><tspan dy="7.3" dx="0.1"> N</tspan></text>
<text x="988" y="618.7" font-size="13" font-weight="bold" fill="#262626" font-family="DejaVu Sans, Liberation Sans, sans-serif">34<tspan dy="-7.3" dx="1.0" font-size="10.5">°</tspan><tspan dy="7.3" dx="0.1"> N</tspan></text>
<text x="988" y="634.7" font-size="13" font-weight="bold" fill="#262626" font-family="DejaVu Sans, Liberation Sans, sans-serif">32<tspan dy="-7.3" dx="1.0" font-size="10.5">°</tspan><tspan dy="7.3" dx="0.1"> N</tspan></text>
<text x="988" y="649.6" font-size="13" font-weight="bold" fill="#262626" font-family="DejaVu Sans, Liberation Sans, sans-serif">30<tspan dy="-7.3" dx="1.0" font-size="10.5">°</tspan><tspan dy="7.3" dx="0.1"> N</tspan></text>
<text x="988" y="664.5" font-size="13" font-weight="bold" fill="#262626" font-family="DejaVu Sans, Liberation Sans, sans-serif">28<tspan dy="-7.3" dx="1.0" font-size="10.5">°</tspan><tspan dy="7.3" dx="0.1"> N</tspan></text>
<text x="988" y="678.7" font-size="13" font-weight="bold" fill="#262626" font-family="DejaVu Sans, Liberation Sans, sans-serif">26<tspan dy="-7.3" dx="1.0" font-size="10.5">°</tspan><tspan dy="7.3" dx="0.1"> N</tspan></text>
<text x="988" y="691.8" font-size="13" font-weight="bold" fill="#262626" font-family="DejaVu Sans, Liberation Sans, sans-serif">24<tspan dy="-7.3" dx="1.0" font-size="10.5">°</tspan><tspan dy="7.3" dx="0.1"> N</tspan></text>
<text x="988" y="705.9" font-size="13" font-weight="bold" fill="#262626" font-family="DejaVu Sans, Liberation Sans, sans-serif">22<tspan dy="-7.3" dx="1.0" font-size="10.5">°</tspan><tspan dy="7.3" dx="0.1"> N</tspan></text>
<text x="1150.6" y="732" font-size="23" font-weight="bold" text-anchor="middle" fill="#262626" textLength="358.9" lengthAdjust="spacing" font-family="DejaVu Sans, Liberation Sans, sans-serif">SAT-RAP 500 hPa MR (g/kg)</text>
</svg>
</body></html>
